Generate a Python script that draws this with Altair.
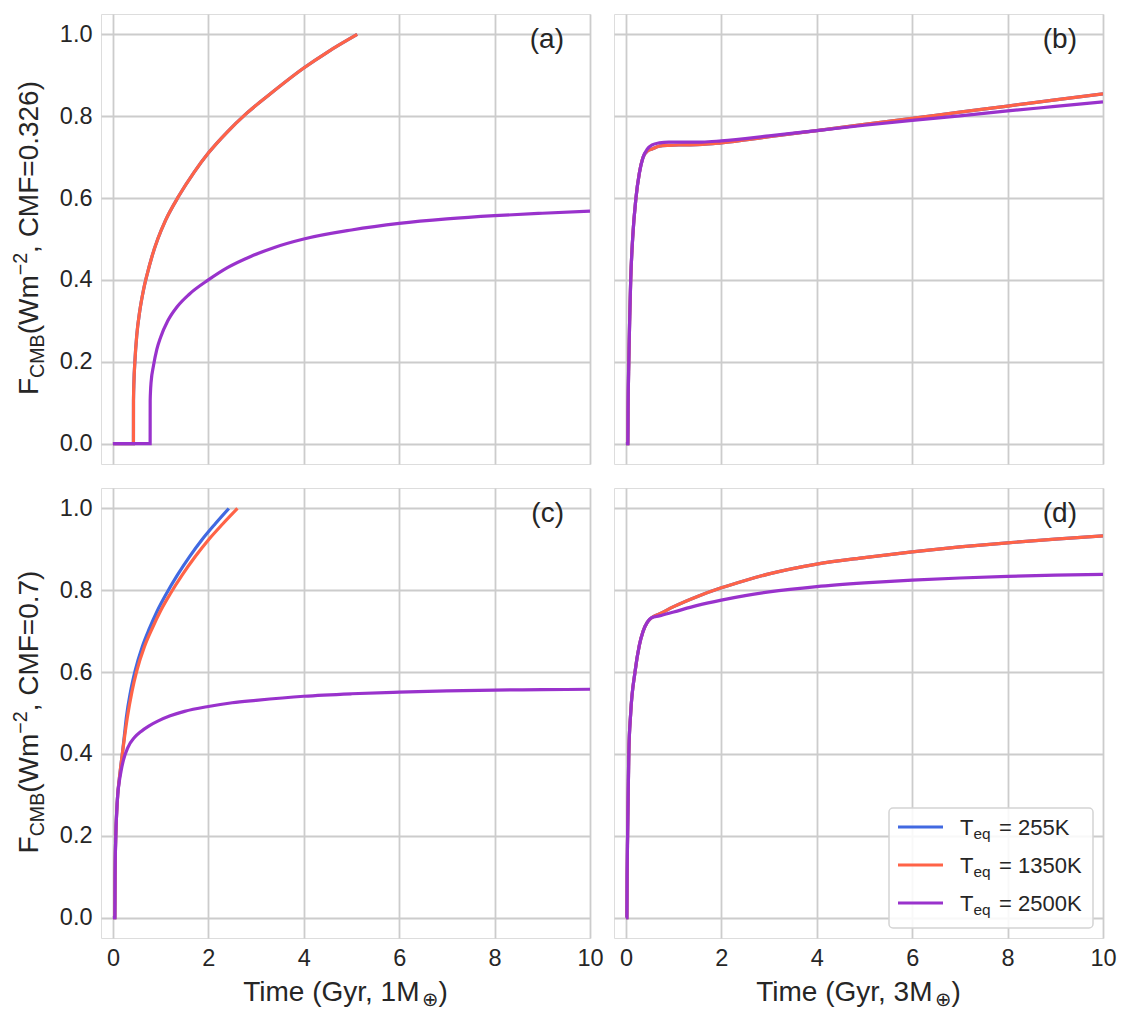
import altair as alt
import pandas as pd

# ---------------- data ----------------
# Panel (a): 1 M_earth, CMF = 0.326
a_red_t = [0.0, 0.43, 0.431, 0.44, 0.46, 0.50, 0.56, 0.64, 0.72, 0.82, 0.94, 1.1, 1.38, 1.7, 2.0, 2.4, 2.8, 3.3, 4.0, 4.5, 5.12]
a_red_f = [0.0, 0.0, 0.105, 0.15, 0.20, 0.265, 0.322, 0.375, 0.415, 0.458, 0.50, 0.545, 0.605, 0.663, 0.71, 0.762, 0.807, 0.855, 0.918, 0.957, 1.0]
a_blue_t = a_red_t
a_blue_f = a_red_f
a_pur_t = [0.0, 0.78, 0.781, 0.80, 0.85, 0.92, 1.0, 1.15, 1.35, 1.6, 2.0, 2.4, 2.9, 3.4, 4.0, 5.0, 6.0, 7.0, 8.0, 9.0, 10.0]
a_pur_f = [0.0, 0.0, 0.105, 0.15, 0.19, 0.23, 0.26, 0.30, 0.335, 0.365, 0.40, 0.43, 0.458, 0.48, 0.50, 0.522, 0.538, 0.549, 0.557, 0.563, 0.568]

# Panel (b): 3 M_earth, CMF = 0.326
b_pur_t = [0.0, 0.04, 0.045, 0.06, 0.08, 0.10, 0.14, 0.21, 0.28, 0.36, 0.45, 0.55, 0.7, 0.9, 1.2, 1.6, 2.0, 3.0, 4.0, 5.0, 6.0, 7.0, 8.0, 9.0, 10.0]
b_pur_f = [0.0, 0.0, 0.08, 0.20, 0.31, 0.40, 0.50, 0.60, 0.66, 0.70, 0.72, 0.73, 0.735, 0.737, 0.737, 0.737, 0.740, 0.752, 0.765, 0.778, 0.790, 0.801, 0.813, 0.824, 0.835]
b_red_t = b_pur_t
b_red_f = [0.0, 0.0, 0.08, 0.20, 0.31, 0.40, 0.50, 0.60, 0.66, 0.70, 0.715, 0.72, 0.727, 0.729, 0.730, 0.731, 0.735, 0.750, 0.765, 0.780, 0.795, 0.810, 0.825, 0.840, 0.855]
b_blue_t = b_red_t
b_blue_f = b_red_f

# Panel (c): 1 M_earth, CMF = 0.7
c_blue_t = [0.0, 0.04, 0.045, 0.06, 0.08, 0.10, 0.13, 0.17, 0.20, 0.24, 0.28, 0.37, 0.465, 0.615, 0.763, 0.931, 1.117, 1.35, 1.61, 1.862, 2.141, 2.43]
c_blue_f = [0.0, 0.0, 0.10, 0.20, 0.26, 0.30, 0.335, 0.375, 0.403, 0.445, 0.488, 0.553, 0.603, 0.662, 0.706, 0.75, 0.791, 0.837, 0.883, 0.923, 0.962, 1.0]
c_red_t = [0.0, 0.04, 0.045, 0.06, 0.08, 0.10, 0.13, 0.17, 0.20, 0.25, 0.30, 0.40, 0.50, 0.66, 0.82, 1.0, 1.2, 1.45, 1.73, 2.0, 2.3, 2.61]
c_red_f = [0.0, 0.0, 0.10, 0.20, 0.26, 0.30, 0.335, 0.375, 0.403, 0.447, 0.488, 0.553, 0.603, 0.662, 0.706, 0.75, 0.791, 0.837, 0.883, 0.923, 0.962, 1.0]
c_pur_t = [0.0, 0.04, 0.045, 0.06, 0.08, 0.10, 0.13, 0.17, 0.22, 0.31, 0.45, 0.59, 0.75, 0.94, 1.2, 1.5, 2.0, 2.5, 3.0, 4.0, 5.0, 6.0, 7.0, 8.0, 9.0, 10.0]
c_pur_f = [0.0, 0.0, 0.10, 0.20, 0.26, 0.30, 0.33, 0.358, 0.385, 0.415, 0.44, 0.455, 0.468, 0.48, 0.493, 0.504, 0.516, 0.525, 0.531, 0.541, 0.547, 0.551, 0.554, 0.556, 0.557, 0.558]

# Panel (d): 3 M_earth, CMF = 0.7
d_red_t = [0.0, 0.02, 0.025, 0.035, 0.06, 0.10, 0.19, 0.28, 0.36, 0.45, 0.54, 0.7, 1.0, 1.5, 2.0, 2.5, 3.0, 4.0, 5.0, 6.0, 7.0, 8.0, 9.0, 10.0]
d_red_f = [0.0, 0.0, 0.10, 0.20, 0.40, 0.50, 0.60, 0.665, 0.70, 0.722, 0.733, 0.742, 0.760, 0.785, 0.806, 0.824, 0.840, 0.864, 0.880, 0.894, 0.906, 0.916, 0.925, 0.933]
d_blue_t = d_red_t
d_blue_f = d_red_f
d_pur_t = d_red_t
d_pur_f = [0.0, 0.0, 0.10, 0.20, 0.40, 0.50, 0.60, 0.665, 0.70, 0.722, 0.733, 0.7375, 0.747, 0.763, 0.776, 0.787, 0.796, 0.809, 0.818, 0.825, 0.830, 0.834, 0.837, 0.839]

series_labels = ["255K", "1350K", "2500K"]
series_colors = ["#4169E1", "#FF6347", "#9932CC"]
x_ticks = [0, 2, 4, 6, 8, 10]
y_ticks = [0.0, 0.2, 0.4, 0.6, 0.8, 1.0]

# ---------------- styling ----------------
W, H = 489, 450
XDOM = [-0.25, 10]
YDOM = [-0.05, 1.05]
FONT = "Liberation Sans"
TXT = "#262626"
GRID = "#cccccc"
BIG = 28
SMALL = 19.6
TICK = 23.5
LW = 3.2

AW = {' ': 278, '(': 333, ')': 333, ',': 278, '.': 278, '=': 584, '\u2212': 584,
      '0': 556, '1': 556, '2': 556, '3': 556, '4': 556, '5': 556, '6': 556, '7': 556,
      '8': 556, '9': 556, 'B': 667, 'C': 722, 'F': 611, 'G': 778, 'K': 667, 'M': 833,
      'T': 611, 'W': 944, 'e': 556, 'i': 222, 'm': 833, 'q': 556, 'r': 333, 'y': 500,
      '\u2295': 838}


def tw(s, size):
    return sum(AW[c] for c in s) * size / 1000.0


def txt(s, x, y, size, angle=0, align="left", font=FONT):
    kw = dict(align=align, baseline="alphabetic", fontSize=size, font=font, color=TXT)
    if angle:
        kw["angle"] = angle
    return alt.Chart(pd.DataFrame({"s": [s]})).mark_text(**kw).encode(
        x=alt.value(x), y=alt.value(y), text="s:N")


def line(t, f, color, show_x, show_y):
    df = pd.DataFrame({"t": t, "f": f, "i": list(range(len(t)))})
    xa = alt.Axis(values=x_ticks, labels=show_x, grid=True, gridColor=GRID, gridWidth=1.8,
                  domain=False, ticks=False, title=None, format="d", labelFont=FONT,
                  labelFontSize=TICK, labelColor=TXT, labelPadding=8, labelFlush=False,
                  labelOverlap=False)
    ya = alt.Axis(values=y_ticks, labels=show_y, grid=True, gridColor=GRID, gridWidth=1.8,
                  domain=False, ticks=False, title=None, format=".1f", labelFont=FONT,
                  labelFontSize=TICK, labelColor=TXT, labelPadding=9, labelFlush=False,
                  labelOverlap=False)
    return alt.Chart(df).mark_line(color=color, strokeWidth=LW, interpolate="monotone",
                                   clip=True).encode(
        x=alt.X("t:Q", scale=alt.Scale(domain=XDOM, nice=False, zero=False), axis=xa),
        y=alt.Y("f:Q", scale=alt.Scale(domain=YDOM, nice=False, zero=False), axis=ya),
        order="i:Q")


def ytitle(cmf):
    pieces = [("F", BIG, 0), ("CMB", SMALL, 6), ("(Wm", BIG, 0), ("\u22122", SMALL, -11),
              (", CMF=" + cmf + ")", BIG, 0)]
    total = sum(tw(p, s) for p, s, _ in pieces)
    y = 224 + total / 2
    base = -63
    out = []
    for p, s, dx in pieces:
        out.append(txt(p, base + dx, y, s, angle=270))
        y -= tw(p, s)
    return out


def xtitle(mass):
    main = "Time (Gyr, " + mass + "M"
    total = tw(main, BIG) + tw("\u2295", SMALL) + tw(")", BIG)
    x = W / 2 - total / 2
    yb = 513
    out = [txt(main, x, yb, BIG)]
    x += tw(main, BIG)
    out.append(txt("\u2295", x, yb + 5, SMALL, font="DejaVu Sans"))
    x += tw("\u2295", SMALL)
    out.append(txt(")", x, yb, BIG))
    return out


def legend():
    box = alt.Chart(pd.DataFrame({"k": [0]})).mark_rect(
        fill="white", fillOpacity=0.85, stroke="#d4d4d4", strokeWidth=1.5, cornerRadius=4
    ).encode(x=alt.value(275), x2=alt.value(479), y=alt.value(320), y2=alt.value(440))
    out = [box]
    for k, (lab, col) in enumerate(zip(series_labels, series_colors)):
        yl = 339 + 38 * k
        out.append(alt.Chart(pd.DataFrame({"k": [k]})).mark_rule(color=col, strokeWidth=LW).encode(
            x=alt.value(284), x2=alt.value(329), y=alt.value(yl)))
        out.append(txt("T", 346, yl + 8, 22))
        out.append(txt("eq", 346 + tw("T", 22), yl + 12, 15.4))
        out.append(txt("= " + lab, 385, yl + 8, 22))
    return out


def panel(series, label, show_x, show_y, extra):
    layers = [line(t, f, c, show_x, show_y) for (t, f), c in zip(series, series_colors)]
    layers.append(txt(label, W - 26, 34, BIG, align="right"))
    layers += extra
    return alt.layer(*layers).properties(width=W, height=H)


pa = panel([(a_blue_t, a_blue_f), (a_red_t, a_red_f), (a_pur_t, a_pur_f)], "(a)",
           False, True, ytitle("0.326"))
pb = panel([(b_blue_t, b_blue_f), (b_red_t, b_red_f), (b_pur_t, b_pur_f)], "(b)",
           False, False, [])
pc = panel([(c_blue_t, c_blue_f), (c_red_t, c_red_f), (c_pur_t, c_pur_f)], "(c)",
           True, True, ytitle("0.7") + xtitle("1"))
pd_ = panel([(d_blue_t, d_blue_f), (d_red_t, d_red_f), (d_pur_t, d_pur_f)], "(d)",
            True, False, xtitle("3") + legend())

chart = alt.concat(pa, pb, pc, pd_, columns=2, spacing=24, bounds="flush").configure_view(
    stroke=GRID, strokeWidth=2).configure(
    background="white", padding={"left": 2, "top": 5, "right": 5, "bottom": 5})

chart.save("out.html", embed_options={"renderer": "svg", "actions": False})
